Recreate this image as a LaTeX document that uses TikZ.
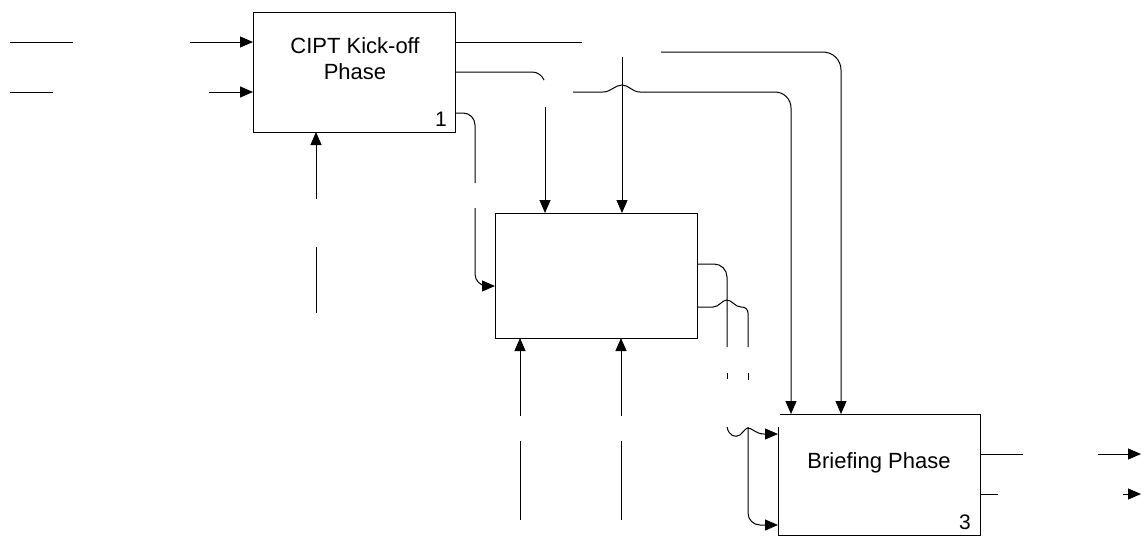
\documentclass[tikz,border=0pt]{standalone}
\usepackage{fontspec}
\setmainfont{Liberation Sans}
\usetikzlibrary{arrows.meta,calc}
\begin{document}
\begin{tikzpicture}[x=1pt,y=-1pt,
  boxstyle/.style={draw, line width=1pt, minimum width=202pt, outer sep=0pt, inner sep=0pt},
  lbl/.style={font=\fontsize{22pt}{26pt}\selectfont, inner sep=0pt, anchor=base},
  num/.style={font=\fontsize{21pt}{26pt}\selectfont, inner sep=0pt, anchor=base east},
  conn/.style={line width=1pt},
  arr/.style={conn, -{Triangle[length=13pt,width=11pt]}}]
\useasboundingbox (0,0) rectangle (1143,536);

% boxes
\node[boxstyle, minimum height=120pt] (box1) at (354,72) {};
\node[boxstyle, minimum height=125pt] (box2) at (596,275.5) {};
\node[boxstyle, draw=none, minimum height=121pt] (box3) at (879,474.5) {};
\draw[line width=1pt] ($(box3.north west)+(0,13)$) -- (box3.south west) -- (box3.south east) -- (box3.north east) -- ($(box3.north west)+(2,0)$);

% texts
\node[lbl] (t1a) at (355,53) {CIPT Kick-off};
\node[lbl] (t1b) at (355,79) {Phase};
\node[num] (n1) at (447,126) {1};
\node[lbl] (t3) at (879,468) {Briefing Phase};
\node[num] (n3) at (971,529) {3};

% inputs to box 1
\draw[conn] (10,42) -- (73,42);
\draw[arr] (190,42) -- ($(box1.north west)+(0,30)$);
\draw[conn] (10,92) -- (53,92);
\draw[arr] (209,92) -- ($(box1.north west)+(0,80)$);

% mechanism of box 1
\draw[conn] (316,313) -- (316,247);
\draw[arr] (316,199) -- ($(box1.south west)+(63,0)$);

% outputs of box 1
\draw[conn] ($(box1.north east)+(0,30)$) -- (582,42);
\draw[conn] (box1.east) -- (532,72) arc[start angle=-90, end angle=-22, radius=13];
\draw[arr] (545,107) -- ($(box2.north west)+(50,0)$);
\draw[conn, rounded corners=12pt] ($(box1.north east)+(0,101)$) -- (475,113) -- (475,183);
\draw[arr, rounded corners=12pt] (475,208) -- (475,286) -- ($(box2.north west)+(0,73)$);

% long controls into box 3 and box 2
\draw[arr, rounded corners=18pt] (661,52) -- (841,52) -- ($(box3.north west)+(63,0)$);
\draw[arr] (622,57) -- ($(box2.north west)+(127,0)$);
\coordinate (hopend) at (645,92);
\draw[conn] (573,92) -- (603,92)
   .. controls (611,92) and (615,85) .. (622,85)
   .. controls (629,85) and (632,92) .. (640,92) -- (hopend);
\draw[arr, rounded corners=16pt] (hopend) -- (791,92) -- ($(box3.north west)+(13,0)$);

% mechanisms of box 2
\draw[arr] (520,416) -- ($(box2.south west)+(25,0)$);
\draw[conn] (520,441) -- (520,520);
\draw[arr] (621,416) -- ($(box2.south west)+(126,0)$);
\draw[conn] (621,441) -- (621,520);

% outputs of box 2
\draw[conn, rounded corners=13pt] ($(box2.north east)+(0,51)$) -- (727,264) -- (727,347);
\draw[conn] (727,373) -- (727,379);
\draw[conn] ($(box2.north east)+(0,94)$) -- (713,307)
   .. controls (719,307) and (722,300) .. (727,300)
   .. controls (732,300) and (735,307) .. (741,307)
   -- (742,307) arc[start angle=-90, end angle=0, radius=6] -- (748,347);
\draw[conn] (748,373) -- (748,380);

% inputs of box 3
\draw[arr] (727,427) .. controls (729,436) and (735,438) .. (740,435)
   .. controls (744,431) and (746,428) .. (748,428)
   .. controls (752,428) and (756,434) .. (764,434)
   -- ($(box3.north west)+(0,20)$);
\draw[arr, rounded corners=12pt] (748,427) -- (748,525) -- ($(box3.north west)+(0,111)$);

% outputs of box 3
\draw[conn] ($(box3.north east)+(0,40)$) -- (1023,454);
\draw[arr] (1098,454) -- (1141,454);
\draw[conn] ($(box3.north east)+(0,80)$) -- (998,494);
\draw[arr] (1123,494) -- (1141,494);
\end{tikzpicture}
\end{document}
